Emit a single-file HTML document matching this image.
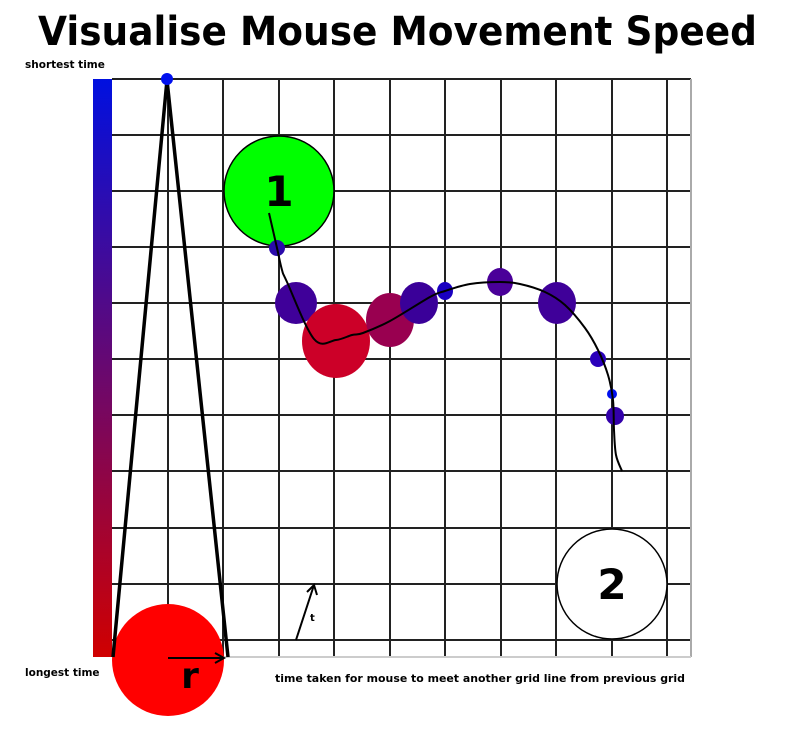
<!DOCTYPE html>
<html><head><meta charset="utf-8"><style>
body{margin:0;background:#fff;width:800px;height:730px;overflow:hidden;font-family:"Liberation Sans","DejaVu Sans",sans-serif}
</style></head><body>
<svg width="800" height="730" font-family="DejaVu Sans, Liberation Sans, sans-serif">
<defs><linearGradient id="g" x1="0" y1="0" x2="0" y2="1"><stop offset="0" stop-color="#0010e0"/><stop offset="1" stop-color="#d00000"/></linearGradient></defs>
<text x="38" y="45" textLength="719" lengthAdjust="spacingAndGlyphs" font-size="40" font-weight="bold">Visualise Mouse Movement Speed</text>
<text x="25" y="68" font-size="10.5" font-weight="bold">shortest time</text>
<text x="25" y="676" font-size="10.5" font-weight="bold">longest time</text>
<text x="275" y="682" textLength="410" lengthAdjust="spacingAndGlyphs" font-size="10.5" font-weight="bold">time taken for mouse to meet another grid line from previous grid</text>
<rect x="93" y="79" width="19" height="578" fill="url(#g)"/>
<g id="grid"></g>
<circle cx="279" cy="191" r="55" fill="#00ff00" stroke="#000" stroke-width="1.5"/>
<text x="279" y="206" text-anchor="middle" font-size="42" font-weight="bold">1</text>
<circle cx="612" cy="584" r="55" fill="#fff" stroke="#000" stroke-width="1.5"/>
<text x="612" y="599" text-anchor="middle" font-size="42" font-weight="bold">2</text>
<g id="blobs"></g>
<path id="trail" fill="none" stroke="#000" stroke-width="2"/>
<circle cx="168" cy="660" r="56" fill="#ff0000"/>
<polyline points="113,657 167,80 228,657" fill="none" stroke="#000" stroke-width="3.5"/>
<circle cx="167" cy="79" r="6" fill="#0010ee"/>
<line x1="168" y1="658" x2="224" y2="658" stroke="#000" stroke-width="2"/>
<polyline points="215,653 224,658 215,663" fill="none" stroke="#000" stroke-width="2"/>
<text x="190" y="688" text-anchor="middle" font-size="36" font-weight="bold">r</text>
<line x1="296" y1="640" x2="314" y2="585" stroke="#000" stroke-width="2"/>
<polyline points="307,592 314,585 317,595" fill="none" stroke="#000" stroke-width="2"/>
<text x="310" y="621" font-size="10" font-weight="bold">t</text>
</svg>
<script>
const blobX=[277,296,336,390,419,445,500,557,598,612,615];
const blobY=[248,303,341,320,303,291,282,303,359,394,416];
const blobRx=[8,21,34,24,19,8,13,19,8,5,9];
const blobRy=[8,21,37,27,21,9,14,21,8,5,9];
const blobColor=["#2a0aaa","#3f0099","#cc0028","#990050","#3a0099","#1a00c0","#4a0099","#3f0099","#2a00bb","#0010ee","#3300aa"];
const pathX=[269,277,282,287,314,336,352,363,390,430,445,470,500,520,545,565,585,598,608,613,614,616,622];
const pathY=[213,248,270,282,339,340,335,333,321,297,291,284,282,284,292,305,328,350,375,400,430,455,471];
const gridV=[168,223,279,334,390,445,501,556,612,667];
const gridH=[79,135,191,247,303,359,415,471,528,584,640];
const NS="http://www.w3.org/2000/svg";
const grid=document.getElementById('grid');
function ln(x1,y1,x2,y2,c){const l=document.createElementNS(NS,'line');l.setAttribute('x1',x1);l.setAttribute('y1',y1);l.setAttribute('x2',x2);l.setAttribute('y2',y2);l.setAttribute('stroke',c);l.setAttribute('stroke-width','2');


grid.appendChild(l);}
gridV.forEach(x=>ln(x,79,x,657,'#222'));
gridH.forEach(y=>ln(112,y,691,y,'#222'));
ln(691,79,691,657,'#aaa');ln(112,657,691,657,'#ccc');
const b=document.getElementById('blobs');
blobX.forEach((x,i)=>{const e=document.createElementNS(NS,'ellipse');e.setAttribute('cx',x);e.setAttribute('cy',blobY[i]);e.setAttribute('rx',blobRx[i]);e.setAttribute('ry',blobRy[i]);e.setAttribute('fill',blobColor[i]);


b.appendChild(e);});
let d='M'+pathX[0]+','+pathY[0];
for(let i=0;i<pathX.length-1;i++){const p0=i?i-1:i,p3=Math.min(i+2,pathX.length-1);
const c1x=pathX[i]+(pathX[i+1]-pathX[p0])/6,c1y=pathY[i]+(pathY[i+1]-pathY[p0])/6;
const c2x=pathX[i+1]-(pathX[p3]-pathX[i])/6,c2y=pathY[i+1]-(pathY[p3]-pathY[i])/6;
d+=' C'+c1x+','+c1y+' '+c2x+','+c2y+' '+pathX[i+1]+','+pathY[i+1];}
document.getElementById('trail').setAttribute('d',d);
</script>
</body></html>
